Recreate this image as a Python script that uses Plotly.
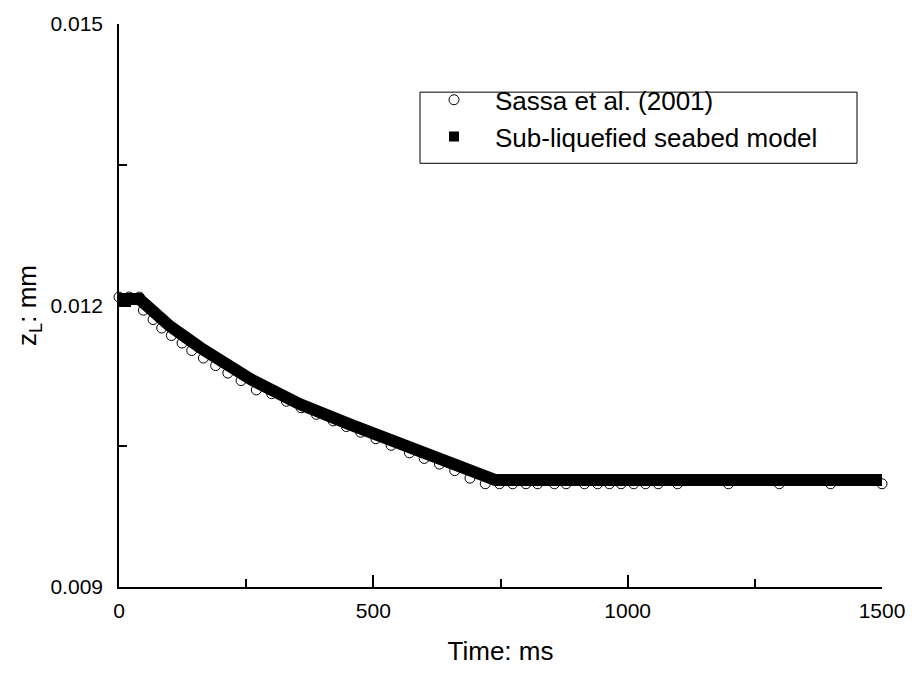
import plotly.graph_objects as go

# Sub-liquefied seabed model
model_t = [0, 40, 100, 160, 260, 355, 455, 550, 630, 690, 715, 740, 1500]
model_z = [0.01207, 0.01207, 0.01178, 0.01155, 0.01121, 0.01095, 0.01073,
           0.01053, 0.01036, 0.01022, 0.01017, 0.01014, 0.01014]

# Sassa et al. (2001) measured points
sassa_t = [0, 20, 40, 48, 67, 84, 103, 124, 143, 166, 190, 214, 240, 270, 300,
           329, 358, 388, 421, 447, 475, 505, 535, 571, 600, 630, 660, 690, 720,
           748, 774, 800, 823, 856, 879, 915, 941, 964, 987, 1012, 1035, 1060,
           1098, 1198, 1298, 1399, 1500]
sassa_z = [0.01209, 0.01209, 0.01209, 0.01195, 0.01185, 0.01176, 0.01168,
           0.01160, 0.01152, 0.01144, 0.01136, 0.01128, 0.01120, 0.01110,
           0.01106, 0.01098, 0.01091, 0.01084, 0.01077, 0.01071, 0.01065,
           0.01058, 0.01051, 0.01043, 0.01037, 0.01031, 0.01024, 0.01016,
           0.01010, 0.01010, 0.01010, 0.01010, 0.01010, 0.01010, 0.01010,
           0.01010, 0.01010, 0.01010, 0.01010, 0.01010, 0.01010, 0.01010,
           0.01010, 0.01010, 0.01010, 0.01010, 0.01010]

x_ticks = [0, 500, 1000, 1500]
y_ticks = [0.009, 0.012, 0.015]
y_tick_labels = ["0.009", "0.012", "0.015"]

FONT = "Liberation Sans, Arial, sans-serif"

fig = go.Figure()
fig.add_trace(go.Scatter(
    x=sassa_t, y=sassa_z, mode="markers", name="Sassa et al. (2001)",
    marker=dict(symbol="circle", size=10, color="white",
                line=dict(color="black", width=1)),
    cliponaxis=False,
))
fig.add_trace(go.Scatter(
    x=model_t, y=model_z, mode="lines", showlegend=False,
    line=dict(color="black", width=12),
))
fig.add_trace(go.Scatter(
    x=[None], y=[None], mode="markers", name="Sub-liquefied seabed model",
    marker=dict(symbol="square", size=10, color="black"),
))

axis_common = dict(
    showline=True, linecolor="black", linewidth=1.6, mirror=False,
    showgrid=False, zeroline=False, ticks="inside", ticklen=12,
    tickwidth=1.6, tickcolor="black",
    tickfont=dict(family=FONT, size=21, color="black"),
)

fig.update_xaxes(
    **axis_common, range=[0, 1500], tickvals=x_ticks,
    ticklabelstandoff=4,
    minor=dict(ticks="inside", ticklen=8, tickwidth=1.6, tickcolor="black",
               dtick=250, showgrid=False),
    title=dict(text="Time: ms", font=dict(family=FONT, size=26, color="black"),
               standoff=21),
)
fig.update_yaxes(
    **axis_common, range=[0.009, 0.015], tickvals=y_ticks,
    ticktext=y_tick_labels, ticklabelstandoff=10,
    minor=dict(ticks="inside", ticklen=8, tickwidth=1.6, tickcolor="black",
               dtick=0.0015, showgrid=False),
    title=dict(text="z<sub>L</sub>: mm",
               font=dict(family=FONT, size=26, color="black"), standoff=6),
)

fig.update_layout(
    width=917, height=673,
    margin=dict(l=119, r=35, t=19, b=84),
    paper_bgcolor="white", plot_bgcolor="white",
    showlegend=True,
    legend=dict(
        x=(413 - 119) / 763, y=(589 - 72) / 570, xanchor="left", yanchor="top",
        bgcolor="rgba(0,0,0,0)", borderwidth=0,
        font=dict(family=FONT, size=26, color="black"),
        itemwidth=72, tracegroupgap=0,
    ),
    shapes=[dict(type="rect", xref="paper", yref="paper",
                 x0=(420 - 119) / 763, x1=(857 - 119) / 763,
                 y0=(589 - 160) / 570, y1=(589 - 88) / 570,
                 line=dict(color="black", width=1), fillcolor="rgba(0,0,0,0)")],
)

fig.write_html("out.html")
